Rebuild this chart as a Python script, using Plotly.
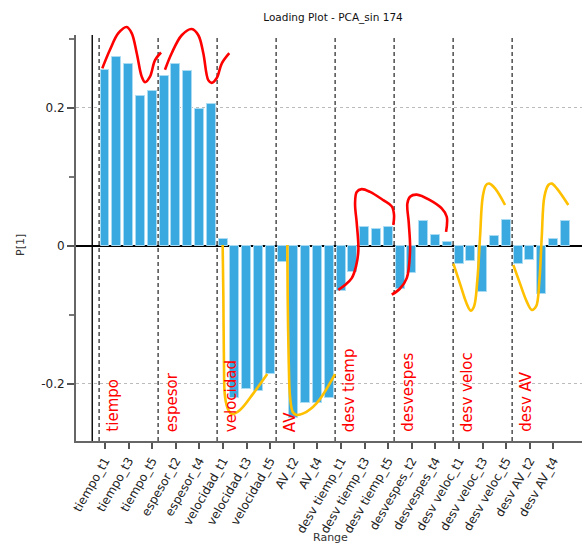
import plotly.graph_objects as go

# ---------------- data ----------------
groups = ["tiempo", "espesor", "velocidad", "AV", "desv tiemp", "desvespes", "desv veloc", "desv AV"]
suffixes = ["t1", "t2", "t3", "t4", "t5"]
categories = [f"{g}_{s}" for g in groups for s in suffixes]

tiempo = [0.255, 0.273, 0.263, 0.217, 0.224]
espesor = [0.246, 0.263, 0.253, 0.198, 0.206]
velocidad = [0.010, -0.220, -0.207, -0.210, -0.186]
av = [-0.024, -0.250, -0.228, -0.228, -0.220]
desv_tiemp = [-0.065, -0.038, 0.027, 0.024, 0.027]
desvespes = [-0.063, -0.039, 0.036, 0.015, 0.005]
desv_veloc = [-0.026, -0.022, -0.067, 0.014, 0.037]
desv_av = [-0.027, -0.020, -0.070, 0.010, 0.036]
values = tiempo + espesor + velocidad + av + desv_tiemp + desvespes + desv_veloc + desv_av

y_tick_vals = [-0.2, 0, 0.2]
y_tick_text = ["-0.2", "0", "0.2"]
y_minor_vals = [-0.1, 0.1, 0.3]

# hand-drawn annotation curves (in data units: bar index, loading)
red1_x = [-0.23, 0.42, 1.13, 1.84, 2.26, 2.69, 3.11, 3.39, 3.81, 4.24, 4.75]
red1_y = [0.257, 0.284, 0.308, 0.317, 0.308, 0.279, 0.245, 0.237, 0.245, 0.269, 0.280]
red2_x = [5.08, 5.65, 6.50, 7.35, 7.91, 8.33, 8.75, 9.04, 9.47, 9.89, 10.53]
red2_y = [0.255, 0.279, 0.305, 0.314, 0.305, 0.279, 0.240, 0.236, 0.243, 0.264, 0.279]
org1_x = [9.97, 10.03, 10.08, 10.17, 10.45, 10.74, 11.44, 12.57, 13.75]
org1_y = [0.001, -0.074, -0.170, -0.219, -0.238, -0.244, -0.238, -0.214, -0.186]
org2_x = [15.45, 15.48, 15.57, 15.68, 15.91, 16.19, 16.81, 17.94, 19.49]
org2_y = [0.001, -0.074, -0.170, -0.219, -0.241, -0.245, -0.243, -0.228, -0.186]
red3_x = [19.77, 20.34, 20.91, 21.27, 21.47, 21.33, 21.19, 21.33, 21.75, 22.46, 23.58, 24.30, 24.49, 24.43]
red3_y = [-0.064, -0.057, -0.047, -0.030, -0.006, 0.033, 0.061, 0.078, 0.082, 0.078, 0.066, 0.057, 0.045, 0.030]
red4_x = [24.30, 25.00, 25.57, 25.85, 25.74, 25.62, 25.85, 26.42, 27.54, 28.53, 28.96, 28.90]
red4_y = [-0.071, -0.062, -0.047, -0.006, 0.033, 0.061, 0.071, 0.074, 0.066, 0.054, 0.042, 0.020]
org3_x = [29.52, 30.08, 30.65, 30.99, 31.27, 31.55, 31.78, 32.01, 32.29, 32.57, 33.05, 33.90]
org3_y = [-0.026, -0.055, -0.084, -0.094, -0.088, -0.050, 0.013, 0.071, 0.088, 0.090, 0.083, 0.059]
org4_x = [34.60, 35.17, 35.74, 36.16, 36.53, 36.81, 37.01, 37.23, 37.57, 37.86, 38.28, 39.26]
org4_y = [-0.028, -0.055, -0.081, -0.093, -0.088, -0.050, 0.013, 0.071, 0.088, 0.090, 0.083, 0.059]

RED = "#FF0000"
ORANGE = "#FFC000"
curves = [
    (red1_x, red1_y, RED), (red2_x, red2_y, RED),
    (org1_x, org1_y, ORANGE), (org2_x, org2_y, ORANGE),
    (red3_x, red3_y, RED), (red4_x, red4_y, RED),
    (org3_x, org3_y, ORANGE), (org4_x, org4_y, ORANGE),
]

# ---------------- figure ----------------
idx = list(range(len(categories)))
X_RANGE = [-2.458, 40.42]

fig = go.Figure()
fig.add_trace(go.Bar(
    x=idx, y=values, width=0.76,
    marker=dict(color="#3AA9E0", line=dict(color="#A9DBF3", width=1)),
    showlegend=False, hoverinfo="skip",
))

for cx, cy, col in curves:
    fig.add_trace(go.Scatter(
        x=cx, y=cy, mode="lines", xaxis="x2", yaxis="y2",
        line=dict(color=col, width=2.6, shape="spline", smoothing=1.0),
        showlegend=False, hoverinfo="skip",
    ))

FONT = "DejaVu Sans"
shapes = []
for k in range(len(groups)):
    shapes.append(dict(type="line", xref="x", yref="y domain", x0=5 * k - 0.5, x1=5 * k - 0.5,
                       y0=0, y1=1, line=dict(color="#333333", width=1.3, dash="4px,3px"), layer="below"))
shapes.append(dict(type="line", xref="x", yref="y domain", x0=-1.08, x1=-1.08, y0=0, y1=1,
                   line=dict(color="#111111", width=1.5), layer="below"))

annotations = []
for k, g in enumerate(groups):
    annotations.append(dict(x=5 * k + 0.68, y=-0.273, xref="x", yref="y", text=g, showarrow=False,
                            textangle=-90, xanchor="center", yanchor="bottom",
                            font=dict(family=FONT, size=15, color=RED)))
annotations.append(dict(x=(20 - 76) / 506, y=(441 - 245) / 421, xref="paper", yref="paper", text="P[1]",
                        showarrow=False, textangle=-90, xanchor="center", yanchor="middle",
                        font=dict(family=FONT, size=11, color="#333333")))
annotations.append(dict(x=(330 - 76) / 506, y=(441 - 537) / 421, xref="paper", yref="paper", text="Range",
                        showarrow=False, xanchor="center", yanchor="middle",
                        font=dict(family=FONT, size=11, color="#333333")))

fig.update_layout(
    width=583, height=545,
    margin=dict(l=76, r=1, t=20, b=104),
    paper_bgcolor="white", plot_bgcolor="rgba(0,0,0,0)",
    title=dict(text="Loading Plot - PCA_sin 174", x=333 / 583, y=1 - 17 / 545, xanchor="center",
               yanchor="middle", font=dict(family=FONT, size=10.5, color="#111111")),
    xaxis=dict(range=X_RANGE, domain=[0, 1], tickmode="array", tickvals=idx[::2], ticktext=categories[::2],
               tickangle=-60, ticks="outside", ticklen=6, tickcolor="#555555", tickwidth=1.5,
               showline=True, linecolor="#666666", linewidth=2, showgrid=False, zeroline=False,
               tickfont=dict(family=FONT, size=12, color="#222222"), fixedrange=True),
    yaxis=dict(range=[-0.283, 0.3054], domain=[0, 0.96437], tickmode="array", tickvals=y_tick_vals,
               ticktext=y_tick_text, ticks="outside", ticklen=7, tickcolor="#555555", tickwidth=1.5,
               showline=True, linecolor="#666666", linewidth=2,
               showgrid=True, gridcolor="#BBBBBB", griddash="dot", gridwidth=1,
               zeroline=True, zerolinecolor="#000000", zerolinewidth=1.5,
               minor=dict(tickmode="array", tickvals=y_minor_vals, ticks="outside", ticklen=5,
                          tickcolor="#777777", showgrid=False),
               tickfont=dict(family=FONT, size=12, color="#222222"), fixedrange=True),
    xaxis2=dict(range=X_RANGE, domain=[0, 1], anchor="y2", visible=False, fixedrange=True),
    yaxis2=dict(range=[-0.283, 0.3271], domain=[0, 1], anchor="x2", visible=False, fixedrange=True),
    shapes=shapes, annotations=annotations, bargap=0,
)

fig.write_html("out.html")
